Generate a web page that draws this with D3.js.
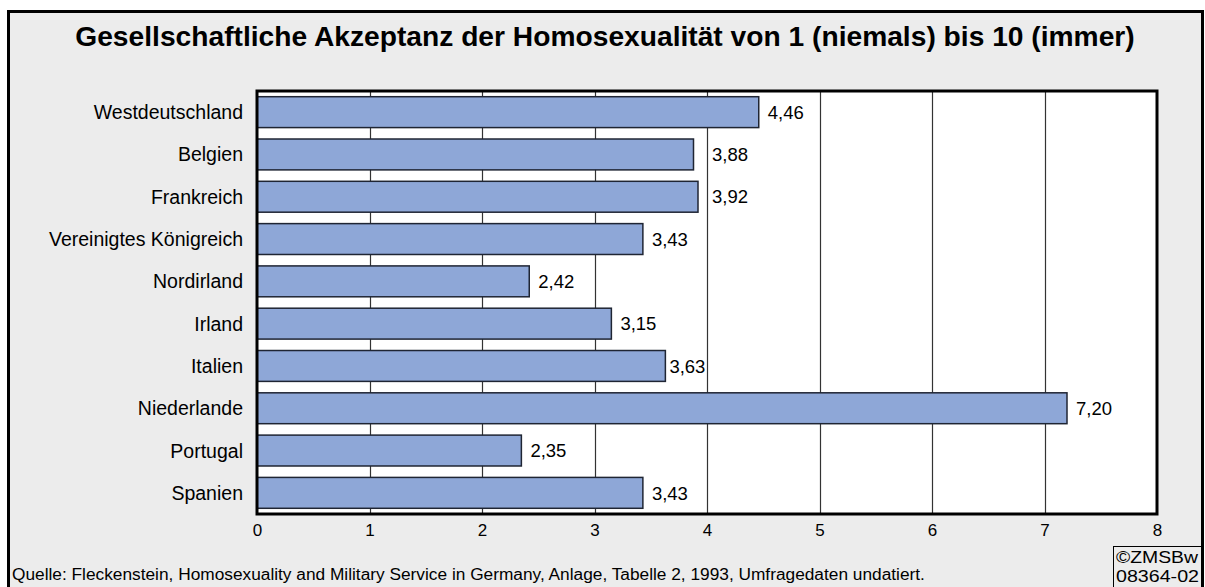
<!DOCTYPE html>
<html>
<head>
<meta charset="utf-8">
<script src="https://cdn.jsdelivr.net/npm/d3@7"></script>
<style>
  body { margin: 0; background: #fff; }
  text { font-family: "Liberation Sans", Arial, sans-serif; fill: #000; }
</style>
</head>
<body>
<svg id="chart" width="1205" height="587"></svg>
<script>
var countries = ["Westdeutschland", "Belgien", "Frankreich", "Vereinigtes Königreich", "Nordirland",
                 "Irland", "Italien", "Niederlande", "Portugal", "Spanien"];
var scores = [4.46, 3.88, 3.92, 3.43, 2.42, 3.15, 3.63, 7.20, 2.35, 3.43];
var xTicks = [0, 1, 2, 3, 4, 5, 6, 7, 8];

var title = "Gesellschaftliche Akzeptanz der Homosexualität von 1 (niemals) bis 10 (immer)";
var source = "Quelle: Fleckenstein, Homosexuality and Military Service in Germany, Anlage, Tabelle 2, 1993, Umfragedaten undatiert.";

var data = countries.map(function(c, i) { return {country: c, value: scores[i]}; });

var svg = d3.select("#chart"),
    margin = {top: 91, right: 48, bottom: 73, left: 257},
    width = +svg.attr("width") - margin.left - margin.right,
    height = +svg.attr("height") - margin.top - margin.bottom;

// outer frame
svg.append("rect")
    .attr("x", 8.5).attr("y", 11.5)
    .attr("width", 1194).attr("height", 600)
    .attr("fill", "#ececec")
    .attr("stroke", "#000")
    .attr("stroke-width", 3);

svg.append("text")
    .attr("x", 605).attr("y", 46)
    .attr("text-anchor", "middle")
    .style("font-size", "28.2px")
    .style("font-weight", "bold")
    .text(title);

var x = d3.scaleLinear().domain([0, 8]).range([0, width]);
var y = d3.scaleBand().domain(countries).range([0, height]).paddingInner(0.27).paddingOuter(0.135);

var g = svg.append("g")
    .attr("transform", "translate(" + margin.left + "," + margin.top + ")");

g.append("rect")
    .attr("width", width).attr("height", height)
    .attr("fill", "#fff");

var gridVals = xTicks.slice(1, -1);

g.selectAll(".grid")
    .data(gridVals)
    .enter().append("line")
    .attr("class", "grid")
    .attr("x1", function(d) { return Math.round(x(d)) + 0.5; })
    .attr("x2", function(d) { return Math.round(x(d)) + 0.5; })
    .attr("y1", 0).attr("y2", height)
    .attr("stroke", "#333")
    .attr("stroke-width", 1.2);

g.selectAll(".bar")
    .data(data)
    .enter().append("rect")
    .attr("class", "bar")
    .attr("x", x(0))
    .attr("y", function(d) { return y(d.country); })
    .attr("width", function(d) { return x(d.value); })
    .attr("height", y.bandwidth())
    .attr("fill", "#8ea7d7")
    .attr("stroke", "#1f2533")
    .attr("stroke-width", 1.5);

var vals = g.selectAll(".val")
    .data(data)
    .enter().append("text")
    .attr("class", "val")
    .attr("y", function(d) { return y(d.country) + y.bandwidth() / 2; })
    .attr("dy", "0.36em")
    .style("font-size", "18.5px")
    .text(function(d) { return d3.format(".2f")(d.value).replace(".", ","); });

// keep value labels off the grid lines: squeeze in front, or jump past
vals.attr("x", function(d) {
    var w = this.getComputedTextLength();
    var end = x(d.value);
    var px = end + 9;
    gridVals.forEach(function(t) {
        var gx = x(t);
        if (gx > px - 3 && gx < px + w + 1) {
            px = (end + 4 + w < gx - 1) ? end + 4 : gx + 5;
        }
    });
    return px;
});

// category labels
g.selectAll(".cat")
    .data(countries)
    .enter().append("text")
    .attr("class", "cat")
    .attr("x", -14)
    .attr("y", function(d) { return y(d) + y.bandwidth() / 2; })
    .attr("dy", "0.36em")
    .attr("text-anchor", "end")
    .style("font-size", "19.5px")
    .text(function(d) { return d; });

// x axis labels
var xAxis = g.append("g")
    .attr("transform", "translate(0," + height + ")")
    .call(d3.axisBottom(x).tickValues(xTicks).tickSize(0).tickPadding(10));
xAxis.select(".domain").remove();
xAxis.selectAll("text")
    .style("font-size", "17px")
    .style("font-family", "'Liberation Sans', Arial, sans-serif")
    .attr("fill", "#000");

g.append("rect")
    .attr("width", width).attr("height", height)
    .attr("fill", "none")
    .attr("stroke", "#000")
    .attr("stroke-width", 3);

svg.append("text")
    .attr("x", 12).attr("y", 580)
    .style("font-size", "17.3px")
    .text(source);

// copyright box
var cg = svg.append("g").attr("transform", "translate(1113,546)");
cg.append("rect")
    .attr("x", 0.5).attr("y", 0.5)
    .attr("width", 88).attr("height", 41)
    .attr("fill", "#ececec")
    .attr("stroke", "#000")
    .attr("stroke-width", 1);
cg.append("text")
    .attr("x", 3).attr("y", 17)
    .attr("textLength", 82)
    .attr("lengthAdjust", "spacingAndGlyphs")
    .style("font-size", "17px")
    .text("©ZMSBw");
cg.append("text")
    .attr("x", 3).attr("y", 36)
    .attr("textLength", 83)
    .attr("lengthAdjust", "spacingAndGlyphs")
    .style("font-size", "17px")
    .text("08364-02");
</script>
</body>
</html>
